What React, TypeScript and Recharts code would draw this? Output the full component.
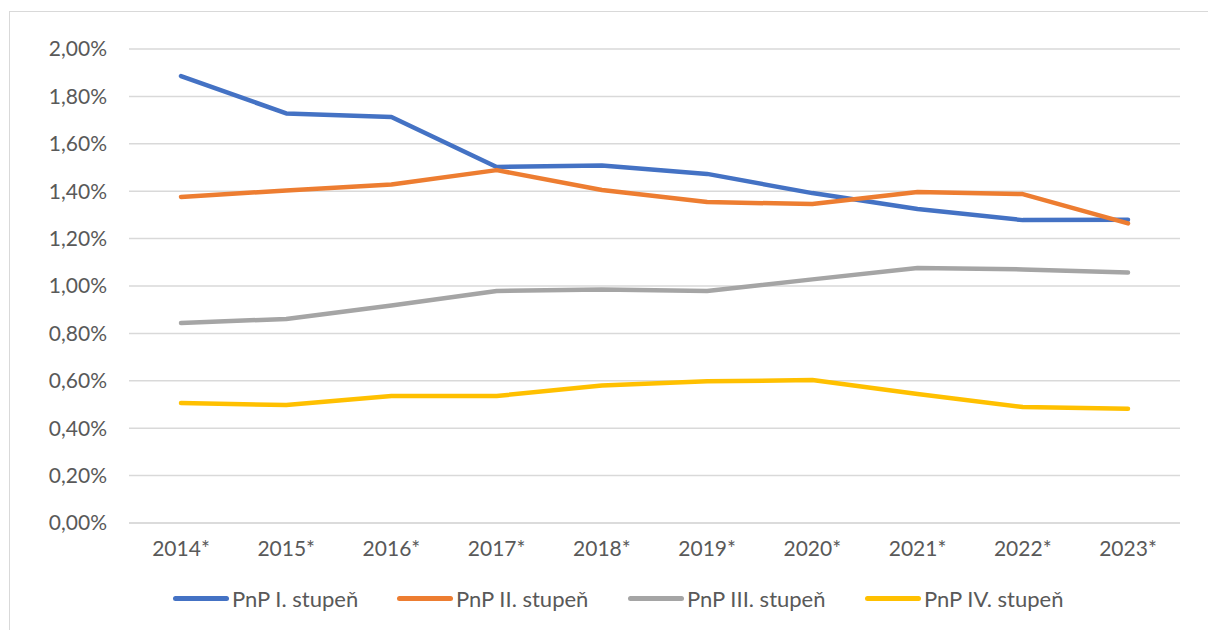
import { LineChart, Line, CartesianGrid, XAxis, YAxis } from 'recharts'

const years = ['2014*', '2015*', '2016*', '2017*', '2018*', '2019*', '2020*', '2021*', '2022*', '2023*']
const stupen1 = [1.886, 1.728, 1.713, 1.502, 1.508, 1.473, 1.392, 1.325, 1.278, 1.28]
const stupen2 = [1.376, 1.403, 1.428, 1.489, 1.405, 1.354, 1.346, 1.397, 1.388, 1.264]
const stupen3 = [0.844, 0.861, 0.918, 0.979, 0.985, 0.979, 1.028, 1.076, 1.07, 1.057]
const stupen4 = [0.506, 0.498, 0.536, 0.536, 0.58, 0.598, 0.603, 0.544, 0.489, 0.482]
const yTicks = [0, 0.2, 0.4, 0.6, 0.8, 1.0, 1.2, 1.4, 1.6, 1.8, 2.0]

const series = [
  { key: 's1', name: 'PnP I. stupeň', color: '#4472C4', values: stupen1, legendX: 173 },
  { key: 's2', name: 'PnP II. stupeň', color: '#ED7D31', values: stupen2, legendX: 397 },
  { key: 's3', name: 'PnP III. stupeň', color: '#A5A5A5', values: stupen3, legendX: 628 },
  { key: 's4', name: 'PnP IV. stupeň', color: '#FFC000', values: stupen4, legendX: 865 },
]

const data = years.map((year, i) => {
  const row: Record<string, string | number> = { year }
  series.forEach(s => { row[s.key] = s.values[i] })
  return row
})

const font = 'Lato, "Open Sans", sans-serif'
const tickStyle = { fill: '#595959', fontSize: 21, fontFamily: font }

export default function App() {
  return (
    <div style={{ position: 'absolute', left: 0, top: 0, width: 1208, height: 630, background: '#fff', overflow: 'hidden' }}>
      <div style={{ position: 'absolute', left: 9, top: 11, width: 1300, height: 700, border: '1.5px solid #d9d9d9' }} />
      <LineChart
        width={1208}
        height={630}
        data={data}
        margin={{ top: 49, right: 28, bottom: 57, left: 0 }}
        style={{ position: 'absolute', left: 0, top: 0 }}
      >
        <CartesianGrid stroke="#d9d9d9" strokeWidth={1.5} vertical={false} />
        <XAxis
          dataKey="year"
          axisLine={{ stroke: '#d9d9d9', strokeWidth: 1.5 }}
          tickLine={false}
          tickSize={0}
          tickMargin={18}
          height={50}
          padding={{ left: 52, right: 52 }}
          tick={tickStyle}
          interval={0}
        />
        <YAxis
          domain={[0, 2]}
          ticks={yTicks}
          axisLine={false}
          tickLine={false}
          tickSize={0}
          tickMargin={22}
          width={129}
          tick={tickStyle}
          tickFormatter={(v: number) => v.toFixed(2).replace('.', ',') + '%'}
        />
        {series.map(s => (
          <Line
            key={s.key}
            dataKey={s.key}
            name={s.name}
            stroke={s.color}
            strokeWidth={4.5}
            strokeLinecap="round"
            strokeLinejoin="round"
            dot={false}
            isAnimationActive={false}
          />
        ))}
      </LineChart>
      {/* legend row */}
      {series.map(s => (
        <div
          key={s.key}
          style={{
            position: 'absolute', left: s.legendX, top: 585, display: 'flex', alignItems: 'center',
            fontFamily: font, fontSize: 22, color: '#595959', whiteSpace: 'nowrap',
          }}
        >
          <span style={{ display: 'inline-block', width: 56, height: 5, borderRadius: 3, background: s.color, marginRight: 3 }} />
          <span>{s.name}</span>
        </div>
      ))}
    </div>
  )
}
